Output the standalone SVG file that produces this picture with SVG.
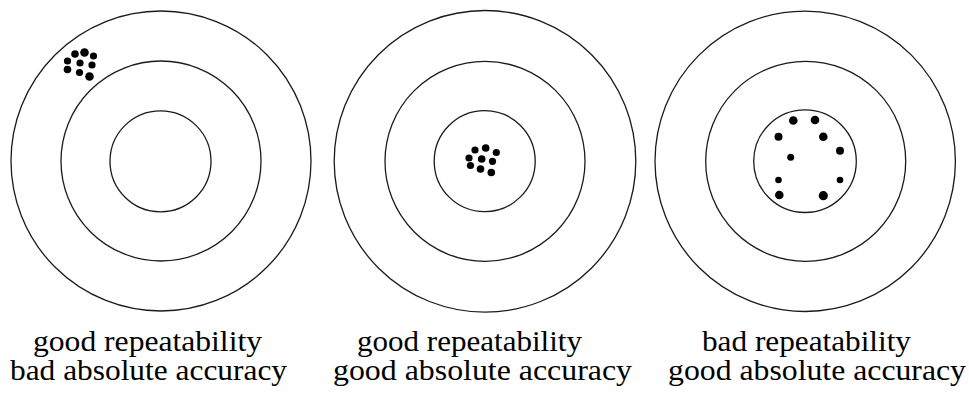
<svg xmlns="http://www.w3.org/2000/svg" width="969" height="393" viewBox="0 0 969 393">
<style>
.ring{fill:none;stroke:#1a1a1a;stroke-width:1.3}
.dot{fill:#000}
.lbl{font-size:29px;fill:#000}
</style>
<rect width="969" height="393" fill="#fff"/>
<g id="target1">
<circle class="ring" cx="161" cy="161" r="150"/>
<circle class="ring" cx="161" cy="161" r="100"/>
<circle class="ring" cx="160.5" cy="161.3" r="50.5"/>
<g class="dot">
<circle cx="75" cy="54" r="3.8"/><circle cx="84.5" cy="52.5" r="4.3"/><circle cx="93.5" cy="56" r="3.6"/>
<circle cx="67.5" cy="61" r="3.6"/><circle cx="80" cy="63" r="3.6"/><circle cx="92" cy="65" r="3.6"/>
<circle cx="67.5" cy="69.5" r="3.8"/><circle cx="79.5" cy="72.5" r="3.6"/><circle cx="89.5" cy="76.5" r="4.3"/>
</g>
</g>
<g id="target2">
<circle class="ring" cx="485" cy="161.3" r="150.8"/>
<circle class="ring" cx="485" cy="161.3" r="100"/>
<circle class="ring" cx="484.7" cy="161.2" r="50.5"/>
<g class="dot">
<circle cx="475" cy="150" r="3.6"/><circle cx="485.7" cy="148" r="3.8"/><circle cx="496.3" cy="152.5" r="3.6"/>
<circle cx="469" cy="158" r="3.6"/><circle cx="481.7" cy="159" r="3.8"/><circle cx="492.5" cy="161.3" r="3.6"/>
<circle cx="470.5" cy="165.5" r="3.6"/><circle cx="480.5" cy="169" r="3.8"/><circle cx="491.3" cy="172.5" r="3.8"/>
</g>
</g>
<g id="target3">
<circle class="ring" cx="805.2" cy="161.3" r="150.2"/>
<circle class="ring" cx="805.7" cy="161.3" r="100"/>
<circle class="ring" cx="805" cy="161.2" r="51.3"/>
<g class="dot">
<circle cx="793.3" cy="120.5" r="4.3"/><circle cx="815" cy="120" r="4.3"/>
<circle cx="778.5" cy="136.7" r="4"/><circle cx="823.3" cy="136.7" r="4.3"/>
<circle cx="840" cy="150.7" r="4"/><circle cx="790.7" cy="157.3" r="3.5"/>
<circle cx="778.5" cy="180" r="3.3"/><circle cx="840" cy="180" r="3.3"/>
<circle cx="779.3" cy="195" r="4.3"/><circle cx="823.3" cy="195.7" r="4.6"/>
</g>
</g>
<g id="labels" font-family="Liberation Serif, Times New Roman, DejaVu Serif, serif">
<text class="lbl" x="33" y="351" textLength="229" lengthAdjust="spacingAndGlyphs">good repeatability</text>
<text class="lbl" x="10" y="380" textLength="277" lengthAdjust="spacingAndGlyphs">bad absolute accuracy</text>
<text class="lbl" x="357" y="351" textLength="225" lengthAdjust="spacingAndGlyphs">good repeatability</text>
<text class="lbl" x="333" y="380" textLength="299" lengthAdjust="spacingAndGlyphs">good absolute accuracy</text>
<text class="lbl" x="702" y="351" textLength="209" lengthAdjust="spacingAndGlyphs">bad repeatability</text>
<text class="lbl" x="668" y="380" textLength="298" lengthAdjust="spacingAndGlyphs">good absolute accuracy</text>
</g>
</svg>
